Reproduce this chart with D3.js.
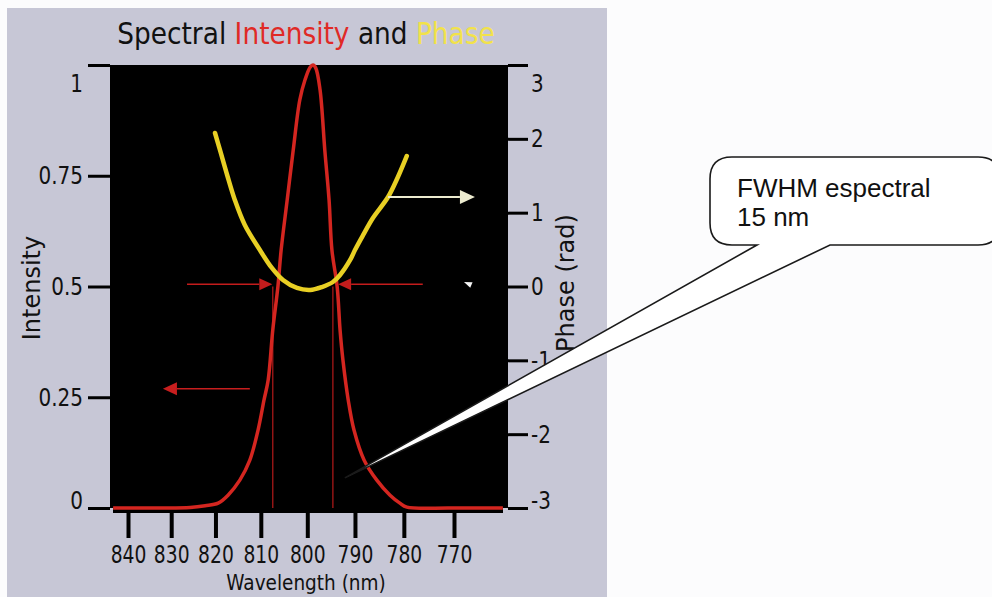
<!DOCTYPE html>
<html>
<head>
<meta charset="utf-8">
<script src="https://cdn.jsdelivr.net/npm/d3@7"></script>
<style>
  html, body { margin: 0; padding: 0; background: #fcfcfd; }
  svg { display: block; }
</style>
</head>
<body>
<svg id="chart" width="992" height="597"></svg>
<script>
// Normalised spectral intensity, sampled against wavelength (nm)
const intensityWavelength = [843.5, 832.6, 825.7, 822.3, 819.4, 817.2, 814.6, 812.4, 810.6, 809.3, 808.4, 807.4,
  806.3, 805.6, 804.3, 803.0, 801.6, 800.5, 799.4, 798.8, 798.2, 797.3, 796.3, 795.4, 794.8, 793.7, 793.1,
  792.5, 791.4, 790.2, 788.1, 785.5, 782.8, 780.8, 779.4, 770.8, 760.5];
const intensity = [0, 0, 0.001, 0.005, 0.011, 0.029, 0.063, 0.108, 0.176, 0.244, 0.289, 0.402,
  0.499, 0.582, 0.695, 0.808, 0.921, 0.966, 0.995, 1.0, 0.993, 0.944, 0.808, 0.695, 0.582, 0.499, 0.402,
  0.334, 0.244, 0.176, 0.108, 0.063, 0.029, 0.011, 0.002, 0, 0];

// Spectral phase (rad), sampled against wavelength (nm)
const phaseWavelength = [820.1, 819.0, 817.4, 815.7, 813.5, 810.2, 807.6, 805.2, 802.2, 799.4, 796.9, 794.6,
  793.1, 791.0, 790.0, 788.3, 786.3, 783.2, 781.2, 779.4];
const phase = [2.079, 1.849, 1.510, 1.172, 0.833, 0.494, 0.251, 0.088, -0.020, -0.047, -0.007, 0.061,
  0.156, 0.359, 0.494, 0.698, 0.928, 1.212, 1.483, 1.768];

// Axis ticks
const wavelengthTicks = [840, 830, 820, 810, 800, 790, 780, 770];
const intensityTicks = [0, 0.25, 0.5, 0.75, 1];
const phaseTicks = [-3, -2, -1, 0, 1, 2, 3];

// Half-maximum crossings of the spectrum (nm)
const fwhmEdges = [807.4, 794.6];
const halfLevel = 0.505;
const fwhmArrowTails = [826.4, 776.2];
const fwhmArrowTips = [807.5, 793.5];

// Axis-pointer arrows
const intensityArrow = { from: 812.4, to: 831.9, level: 0.269 };
const phaseArrow = { from: 783.2, to: 765.9, level: 1.212 };

// Callout note
const calloutLines = ["FWHM espectral", "15 nm"];
const calloutTarget = { wavelength: 792.1, intensity: 0.068 };

const titleParts = [
  { text: "Spectral ", color: "#111" },
  { text: "Intensity", color: "#e02a26" },
  { text: " and ", color: "#111" },
  { text: "Phase", color: "#f2e24a" }
];

// ---------------------------------------------------------------
const C = 299792.458;            // speed of light, nm·THz
const freq = l => C / l;         // the horizontal axis is linear in optical frequency

const svg = d3.select("#chart");
const FONT = "'DejaVu Sans', Verdana, sans-serif";
const SQUEEZE = 0.8;

const plot = { left: 110, right: 508, top: 65, bottom: 508 };

const x = d3.scaleLinear().domain([freq(840), freq(770)]).range([128, 454]);
const yI = d3.scaleLinear().domain([0, 1]).range([plot.bottom, plot.top]);
const yP = d3.scaleLinear().domain([-3, 3]).range([plot.bottom, plot.top]);
const px = l => x(freq(l));

// panel and plotting area
svg.append("rect").attr("x", 7).attr("y", 8).attr("width", 600).attr("height", 589).attr("fill", "#c7c7d6");
svg.append("rect").attr("x", plot.left).attr("y", plot.top)
  .attr("width", plot.right - plot.left).attr("height", plot.bottom - plot.top).attr("fill", "#000");
svg.append("rect").attr("x", 113).attr("y", plot.bottom - 1).attr("width", 390).attr("height", 6).attr("fill", "#000");

svg.append("defs").append("clipPath").attr("id", "plotClip")
  .append("rect").attr("x", plot.left).attr("y", plot.top - 2)
  .attr("width", plot.right - plot.left).attr("height", plot.bottom - plot.top + 4);

// title
const title = svg.append("text")
  .attr("transform", `translate(306,44) scale(0.88,1)`)
  .attr("text-anchor", "middle")
  .style("font-family", FONT).style("font-size", "30px");
title.selectAll("tspan").data(titleParts).join("tspan")
  .attr("fill", d => d.color).text(d => d.text);

// left axis: intensity
const leftAxis = svg.append("g").attr("transform", `translate(${plot.left},0)`)
  .call(d3.axisLeft(yI).tickValues(intensityTicks).tickSize(22).tickPadding(5).tickFormat(d => String(d)));
// right axis: phase
const rightAxis = svg.append("g").attr("transform", `translate(${plot.right},0)`)
  .call(d3.axisRight(yP).tickValues(phaseTicks).tickSize(20).tickPadding(3).tickFormat(d => String(d)));
// bottom axis: wavelength
const bottomAxis = svg.append("g").attr("transform", `translate(0,512)`)
  .call(d3.axisBottom(x).tickValues(wavelengthTicks.map(freq)).tickSize(26).tickPadding(8)
    .tickFormat(f => d3.format(".0f")(C / f)));

[leftAxis, rightAxis, bottomAxis].forEach(g => {
  g.select(".domain").remove();
  g.selectAll(".tick line").attr("stroke", "#000").attr("stroke-width", 3);
  g.selectAll(".tick text").attr("fill", "#111")
    .style("font-family", FONT).style("font-size", "25px");
});
bottomAxis.selectAll(".tick line").attr("stroke-width", 4);
bottomAxis.selectAll(".tick text").style("font-size", "24px").attr("transform", `scale(0.78,1)`);

leftAxis.selectAll(".tick text")
  .attr("x", -27 / SQUEEZE).attr("transform", `scale(${SQUEEZE},1)`)
  .attr("y", d => d === 1 ? 19 : d === 0 ? -8 : 0);
rightAxis.selectAll(".tick text")
  .attr("x", 23 / SQUEEZE).attr("transform", `scale(${SQUEEZE},1)`)
  .attr("y", d => d === 3 ? 19 : d === -3 ? -8 : 0);

// axis titles
svg.append("text").attr("transform", `translate(306,589.5) scale(0.88,1)`)
  .attr("text-anchor", "middle").attr("fill", "#111")
  .style("font-family", FONT).style("font-size", "21px").text("Wavelength (nm)");
svg.append("text").attr("transform", `translate(40,288) rotate(-90)`)
  .attr("text-anchor", "middle").attr("fill", "#111")
  .style("font-family", FONT).style("font-size", "24px").text("Intensity");
svg.append("text").attr("transform", `translate(574,283) rotate(-90)`)
  .attr("text-anchor", "middle").attr("fill", "#111")
  .style("font-family", FONT).style("font-size", "24px").text("Phase (rad)");

// curves
const layer = svg.append("g").attr("clip-path", "url(#plotClip)");

const intensityData = intensityWavelength.map((l, i) => ({ l, v: intensity[i] }));
const phaseData = phaseWavelength.map((l, i) => ({ l, v: phase[i] }));

// FWHM markers
layer.selectAll("line.fwhm").data(fwhmEdges).join("line").attr("class", "fwhm")
  .attr("x1", d => px(d)).attr("x2", d => px(d))
  .attr("y1", yI(0.5)).attr("y2", yI(0))
  .attr("stroke", "#b51a1a").attr("stroke-width", 1.2);

layer.append("path").datum(intensityData)
  .attr("d", d3.line().x(d => px(d.l)).y(d => yI(d.v)).curve(d3.curveCatmullRom.alpha(0.5)))
  .attr("fill", "none").attr("stroke", "#d42620").attr("stroke-width", 3.5).attr("stroke-linejoin", "round");

layer.append("path").datum(phaseData)
  .attr("d", d3.line().x(d => px(d.l)).y(d => yP(d.v)).curve(d3.curveCatmullRom.alpha(0.5)))
  .attr("fill", "none").attr("stroke", "#e8cf24").attr("stroke-width", 4.5).attr("stroke-linecap", "round");

// arrows
function arrow(g, x1, y1, x2, y2, color, w, hl, hw) {
  const a = Math.atan2(y2 - y1, x2 - x1);
  const bx = x2 - hl * Math.cos(a), by = y2 - hl * Math.sin(a);
  if (w > 0) {
    g.append("line").attr("x1", x1).attr("y1", y1).attr("x2", bx).attr("y2", by)
      .attr("stroke", color).attr("stroke-width", w);
  }
  g.append("path")
    .attr("d", `M${x2},${y2}L${bx - hw * Math.sin(a)},${by + hw * Math.cos(a)}L${bx + hw * Math.sin(a)},${by - hw * Math.cos(a)}Z`)
    .attr("fill", color);
}
const arrows = svg.append("g");
fwhmArrowTails.forEach((t, i) =>
  arrow(arrows, px(t), yI(halfLevel), px(fwhmArrowTips[i]), yI(halfLevel), "#c41c1c", 1.5, 13, 6));
arrow(arrows, px(intensityArrow.from), yI(intensityArrow.level), px(intensityArrow.to), yI(intensityArrow.level),
  "#c81e1e", 1.5, 14, 6.5);
arrow(arrows, px(phaseArrow.from), yP(phaseArrow.level), px(phaseArrow.to), yP(phaseArrow.level),
  "#ecebcf", 2, 15, 7);
// small stray head beside the phase axis
arrow(arrows, 476, 287, 464, 282, "#f4f4f4", 0, 8, 3);

// callout with pointer to the spectrum's half-width region
const bx0 = 710, bx1 = 1000, by0 = 157, by1 = 245, r = 22;
const tipX = px(calloutTarget.wavelength), tipY = yI(calloutTarget.intensity);
const bubble = d3.path();
bubble.moveTo(bx0 + r, by0);
bubble.lineTo(bx1 - r, by0);
bubble.quadraticCurveTo(bx1, by0, bx1, by0 + r);
bubble.lineTo(bx1, by1 - r);
bubble.quadraticCurveTo(bx1, by1, bx1 - r, by1);
bubble.lineTo(830, by1);
bubble.lineTo(tipX, tipY);
bubble.lineTo(757, by1);
bubble.lineTo(bx0 + r, by1);
bubble.quadraticCurveTo(bx0, by1, bx0, by1 - r);
bubble.lineTo(bx0, by0 + r);
bubble.quadraticCurveTo(bx0, by0, bx0 + r, by0);
bubble.closePath();
svg.append("path").attr("d", bubble.toString())
  .attr("fill", "#fff").attr("stroke", "#1a1a1a").attr("stroke-width", 1.6).attr("stroke-linejoin", "miter");

svg.append("g").selectAll("text").data(calloutLines).join("text")
  .attr("x", 737).attr("y", (d, i) => 197 + i * 29)
  .attr("fill", "#111")
  .style("font-family", "'Liberation Sans', Arial, sans-serif").style("font-size", "26px")
  .text(d => d);
</script>
</body>
</html>
